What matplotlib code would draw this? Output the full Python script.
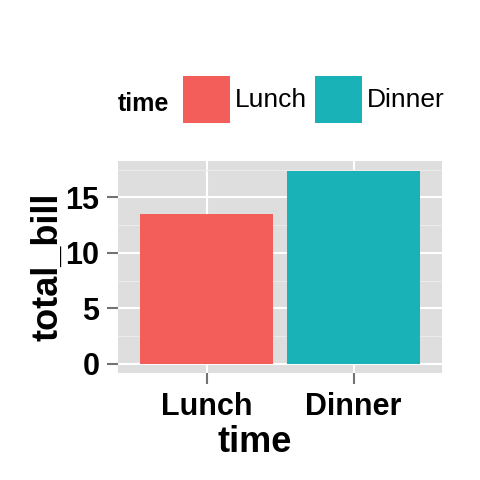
import numpy as np
import matplotlib.pyplot as plt
from matplotlib.ticker import MultipleLocator

times = ['Lunch', 'Dinner']
total_bill = [13.52, 17.41]
colors = ['#F35E5A', '#19B3B7']

plt.rcParams['font.family'] = ['Liberation Sans', 'DejaVu Sans']

fig = plt.figure(figsize=(4.8, 4.8), dpi=100)
ax = fig.add_axes([0.2465, 0.2223, 0.6738, 0.4423])
ax.set_facecolor('#DEDEDE')

x = np.arange(1, len(times) + 1)
bars = ax.bar(x, total_bill, width=0.9, color=colors, zorder=3)

# ggplot style expansion
top = max(total_bill)
ax.set_xlim(0.4, len(times) + 0.6)
ax.set_ylim(-0.05 * top, 1.05 * top)

ax.set_xticks(x)
ax.set_xticklabels(times)
ax.yaxis.set_major_locator(MultipleLocator(5))
ax.yaxis.set_minor_locator(MultipleLocator(2.5))
ax.grid(which='major', color='white', linewidth=1.5, zorder=1)
ax.grid(which='minor', axis='y', color='#EBEBEB', linewidth=0.8, zorder=0)
ax.set_axisbelow(True)
for s in ax.spines.values():
    s.set_visible(False)

ax.tick_params(which='major', length=8, width=1.5, color='#737373',
               labelsize=22, pad=5.5)
ax.tick_params(which='minor', length=0)
for lab in ax.get_xticklabels() + ax.get_yticklabels():
    lab.set_fontweight('bold')

ax.set_xlabel('time', fontsize=26, fontweight='bold', va='center')
ax.xaxis.set_label_coords(0.4227, -0.328)
ax.set_ylabel('total_bill', fontsize=26, fontweight='bold', va='center')
ax.yaxis.set_label_coords(-0.2174, 0.5)

# legend on top, title to the left
leg = fig.legend(bars, times, loc='center left', bbox_to_anchor=(182.7 / 480, 0.793),
                 ncol=2, frameon=False, fontsize=19, handlelength=1.78,
                 handleheight=2.39, handletextpad=0.2, columnspacing=0.3,
                 borderpad=0, borderaxespad=0)
fig.text(118 / 480, 0.7827, 'time', fontsize=18, fontweight='bold',
         va='center', ha='left')

fig.savefig('out.png', dpi=100)
